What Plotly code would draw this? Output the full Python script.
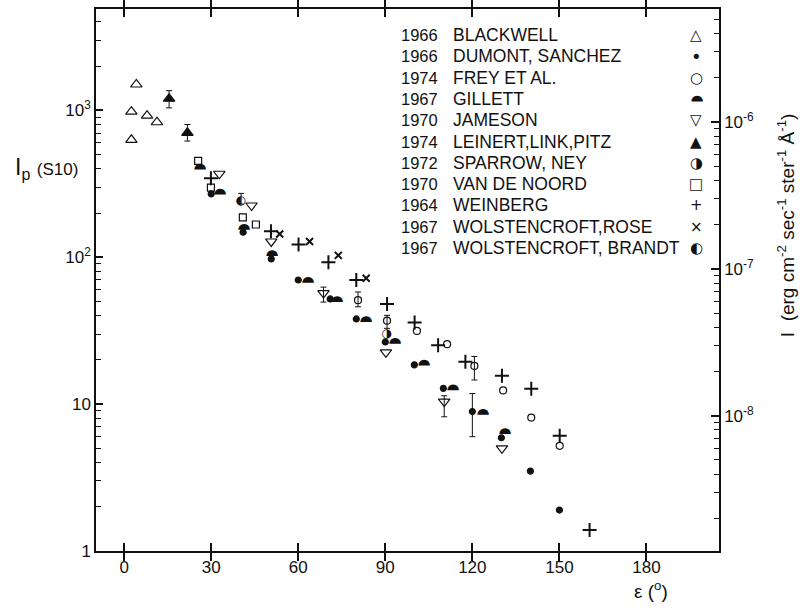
import math
import plotly.graph_objects as go

# ---------------- data ----------------
blackwell_x = [2.5, 2.5, 4.2, 7.9, 11.3]
blackwell_y = [980, 630, 1500, 920, 830]

dumont_x = [30, 41, 50.7, 60, 71, 80, 90, 100, 110, 120, 130, 140, 150]
dumont_y = [270, 148, 97.5, 70, 52, 38, 26.5, 18.5, 12.8, 8.9, 5.9, 3.5, 1.9]
dumont_err_plus = [0, 0, 0, 0, 0, 0, 0, 0, 0, 2.9, 0, 0, 0]
dumont_err_minus = [0, 0, 0, 0, 0, 0, 0, 0, 0, 2.9, 0, 0, 0]

frey_x = [80.6, 90.6, 100.9, 111.3, 120.7, 130.6, 140.3, 150.1]
frey_y = [51, 37, 31.5, 25.6, 18.2, 12.4, 8.1, 5.2]
frey_err_plus = [7, 3.2, 0, 0, 2.9, 0, 0, 0]
frey_err_minus = [5, 4.2, 0, 0, 3.6, 0, 0, 0]

gillett_x = [25.5, 32.9, 40.9, 50.7, 63, 73.1, 83.1, 93.2, 103.2, 113, 123.1, 130.8]
gillett_y = [414, 277, 160, 107, 70, 52, 38, 26.7, 19, 13, 8.9, 6.5]

jameson_x = [32.8, 43.9, 50.7, 68.7, 90.2, 110.3, 130.2]
jameson_y = [370, 225, 128, 57, 22.5, 10.4, 5.0]
jameson_err_plus = [0, 0, 0, 5.6, 0, 1.0, 0]
jameson_err_minus = [0, 0, 0, 7.5, 0, 2.2, 0]

leinert_x = [15.5, 21.8]
leinert_y = [1200, 703]
leinert_err_plus = [162, 98]
leinert_err_minus = [160, 85]

sparrow_x = [90.4]
sparrow_y = [30]

noord_x = [25.5, 29.9, 40.9, 45.4]
noord_y = [453, 298, 187, 167]

weinberg_x = [29.9, 50.6, 60.1, 70.4, 80, 90.6, 100.1, 108.2, 117.6, 130.2, 140.3, 150.1, 160.4]
weinberg_y = [345, 150, 122, 92.5, 70, 48, 36, 25.2, 19.4, 15.6, 12.7, 6.1, 1.39]

rose_x = [53.6, 63.9, 73.8, 83.4]
rose_y = [144, 128, 103, 72]

brandt_x = [40.3]
brandt_y = [240]
brandt_err_plus = [32]
brandt_err_minus = [10]

legend_years = ["1966", "1966", "1974", "1967", "1970", "1974", "1972", "1970", "1964", "1967", "1967"]
legend_names = ["BLACKWELL", "DUMONT, SANCHEZ", "FREY ET AL.", "GILLETT", "JAMESON",
                "LEINERT,LINK,PITZ", "SPARROW, NEY", "VAN DE NOORD", "WEINBERG",
                "WOLSTENCROFT,ROSE", "WOLSTENCROFT, BRANDT"]
legend_glyphs = ["△", "•", "○", "DOME", "▽", "▲", "◑", "□", "+", "×", "◐"]

x_ticks = [0, 30, 60, 90, 120, 150, 180]
left_tickvals = [1, 10, 100, 1000]
left_ticktext = ["1", "10", "10<sup>2</sup>", "10<sup>3</sup>"]
right_tickvals = [1e-8, 1e-7, 1e-6]
right_ticktext = ["10<sup>-8</sup>", "10<sup>-7</sup>", "10<sup>-6</sup>"]
S10_FACTOR = 1.2e-9

# ---------------- figure ----------------
FONT = "Liberation Sans"
INK = "#111111"
fig = go.Figure()


def err(plus, minus):
    return dict(type="data", array=plus, arrayminus=minus, symmetric=False,
                color=INK, thickness=1, width=3)


def split(x, y, plus=None, minus=None):
    """Split series into points without and with error bars."""
    if plus is None:
        return (x, y), None
    plain = [(a, b) for a, b, p, m in zip(x, y, plus, minus) if p == 0 and m == 0]
    witherr = [(a, b, p, m) for a, b, p, m in zip(x, y, plus, minus) if p or m]
    px_, py_ = [p[0] for p in plain], [p[1] for p in plain]
    ex = [w[0] for w in witherr]
    ey = [w[1] for w in witherr]
    ep = [w[2] for w in witherr]
    em = [w[3] for w in witherr]
    return (px_, py_), (ex, ey, ep, em)


def marker_trace(x, y, symbol, size, lw=1.2, plus=None, minus=None):
    plain, witherr = split(x, y, plus, minus)
    mk = dict(symbol=symbol, size=size, color=INK, line=dict(color=INK, width=lw))
    if plain[0]:
        fig.add_trace(go.Scatter(x=plain[0], y=plain[1], mode="markers",
                                 showlegend=False, marker=mk))
    if witherr:
        fig.add_trace(go.Scatter(x=witherr[0], y=witherr[1], mode="markers",
                                 showlegend=False, marker=mk,
                                 error_y=err(witherr[2], witherr[3])))


def glyph_trace(x, y, glyph, size, plus=None, minus=None):
    fig.add_trace(go.Scatter(
        x=x, y=y, mode="text", text=[glyph] * len(x), showlegend=False,
        textposition="middle center",
        textfont=dict(family="DejaVu Sans", size=size, color=INK),
        error_y=err(plus, minus) if plus else dict(visible=False)))


marker_trace(blackwell_x, blackwell_y, "triangle-up-open", 10)
marker_trace(dumont_x, dumont_y, "circle", 6, plus=dumont_err_plus, minus=dumont_err_minus)
marker_trace(frey_x, frey_y, "circle-open", 7, plus=frey_err_plus, minus=frey_err_minus)
marker_trace(jameson_x, jameson_y, "triangle-down-open", 10,
             plus=jameson_err_plus, minus=jameson_err_minus)
marker_trace(leinert_x, leinert_y, "triangle-up", 10, plus=leinert_err_plus, minus=leinert_err_minus)
glyph_trace(sparrow_x, sparrow_y, "◑", 12)
marker_trace(noord_x, noord_y, "square-open", 7)
marker_trace(weinberg_x, weinberg_y, "cross-thin-open", 10, lw=2)
marker_trace(rose_x, rose_y, "x-thin-open", 7, lw=2)
glyph_trace(brandt_x, brandt_y, "◐", 12, plus=brandt_err_plus, minus=brandt_err_minus)

# Gillett: filled half-disc (dome) = right-half-black circle rotated to point up
for gx, gy in zip(gillett_x, gillett_y):
    fig.add_annotation(x=gx, y=math.log10(gy), xref="x", yref="y", text="◗",
                       textangle=-90, showarrow=False, xanchor="center", yanchor="middle",
                       font=dict(family="DejaVu Sans", size=15, color=INK))

# invisible trace so the right-hand axis is drawn
fig.add_trace(go.Scatter(x=[None], y=[None], yaxis="y2", showlegend=False,
                         hoverinfo="skip", mode="markers"))

ylog_lo, ylog_hi = 0.0, 3.69
minor_left = [m * 10 ** d for d in range(0, 4) for m in range(2, 10) if m * 10 ** d < 10 ** ylog_hi]
minor_right = [m * 10 ** d for d in range(-9, -5) for m in range(2, 10)]

axis_font = dict(family=FONT, size=17, color=INK)

fig.update_layout(
    width=802, height=610,
    margin=dict(l=96, r=83, t=7, b=59),
    paper_bgcolor="white", plot_bgcolor="white",
    font=dict(family=FONT, color=INK),
    xaxis=dict(range=[-9.7, 205], tickvals=x_ticks, ticks="inside", ticklen=8,
               tickwidth=1.5, tickcolor=INK, showline=True, linecolor=INK, linewidth=1.5,
               mirror="allticks", showgrid=False, zeroline=False, tickfont=axis_font),
    yaxis=dict(type="log", range=[ylog_lo, ylog_hi], tickvals=left_tickvals,
               ticktext=left_ticktext, ticks="inside", ticklen=7, tickwidth=1.5,
               tickcolor=INK, showline=True, linecolor=INK, linewidth=1.5,
               showgrid=False, zeroline=False, tickfont=axis_font,
               minor=dict(tickmode="array", tickvals=minor_left, ticks="inside",
                          ticklen=5, tickwidth=1.2, tickcolor=INK, showgrid=False)),
    yaxis2=dict(type="log", overlaying="y", side="right",
                range=[ylog_lo + math.log10(S10_FACTOR), ylog_hi + math.log10(S10_FACTOR)],
                tickvals=right_tickvals, ticktext=right_ticktext, ticks="inside",
                ticklen=8, tickwidth=1.5, tickcolor=INK, showline=True, linecolor=INK,
                linewidth=1.5, showgrid=False, zeroline=False, tickfont=axis_font,
                minor=dict(tickmode="array", tickvals=minor_right, ticks="inside",
                           ticklen=5, tickwidth=1.2, tickcolor=INK, showgrid=False)),
)

# ---------------- legend (text annotations in paper space) ----------------
PLOT_L, PLOT_W, PLOT_B, PLOT_H = 96, 623, 551, 544


def px(x):
    return (x - PLOT_L) / PLOT_W


def py(y):
    return (PLOT_B - y) / PLOT_H


row0, row_step = 33, 21.4
for i, (yr, nm, gl) in enumerate(zip(legend_years, legend_names, legend_glyphs)):
    yy = py(row0 + i * row_step)
    fig.add_annotation(x=px(399), y=yy, xref="paper", yref="paper", text=yr,
                       showarrow=False, xanchor="left", yanchor="middle",
                       font=dict(family=FONT, size=16.5, color=INK))
    fig.add_annotation(x=px(451), y=yy, xref="paper", yref="paper", text=nm,
                       showarrow=False, xanchor="left", yanchor="middle",
                       font=dict(family=FONT, size=17.5, color=INK))
    if gl == "DOME":
        fig.add_annotation(x=px(696), y=yy, xref="paper", yref="paper", text="◗",
                           textangle=-90, showarrow=False, xanchor="center",
                           yanchor="middle",
                           font=dict(family="DejaVu Sans", size=15, color=INK))
    else:
        fig.add_annotation(x=px(696), y=yy, xref="paper", yref="paper", text=gl,
                           showarrow=False, xanchor="center", yanchor="middle",
                           font=dict(family="DejaVu Sans", size=18 if gl == "•" else 15,
                                     color=INK))

# axis titles
fig.add_annotation(x=px(46), y=py(167), xref="paper", yref="paper",
                   xanchor="center", yanchor="middle",
                   text="I<sub>p</sub> <span style='font-size:17px'>(S10)</span>",
                   showarrow=False, font=dict(family=FONT, size=23, color=INK))
fig.add_annotation(x=px(651), y=py(590), xref="paper", yref="paper",
                   xanchor="center", yanchor="middle",
                   text="ε (<sup>o</sup>)", showarrow=False,
                   font=dict(family=FONT, size=19, color=INK))
fig.add_annotation(x=px(786), y=py(224), xref="paper", yref="paper", textangle=-90,
                   xanchor="center", yanchor="middle",
                   text="I  (erg cm<sup>-2</sup> sec<sup>-1</sup> ster<sup>-1</sup> Å<sup>-1</sup>)",
                   showarrow=False, font=dict(family=FONT, size=19, color=INK))

fig.write_html("out.html")
